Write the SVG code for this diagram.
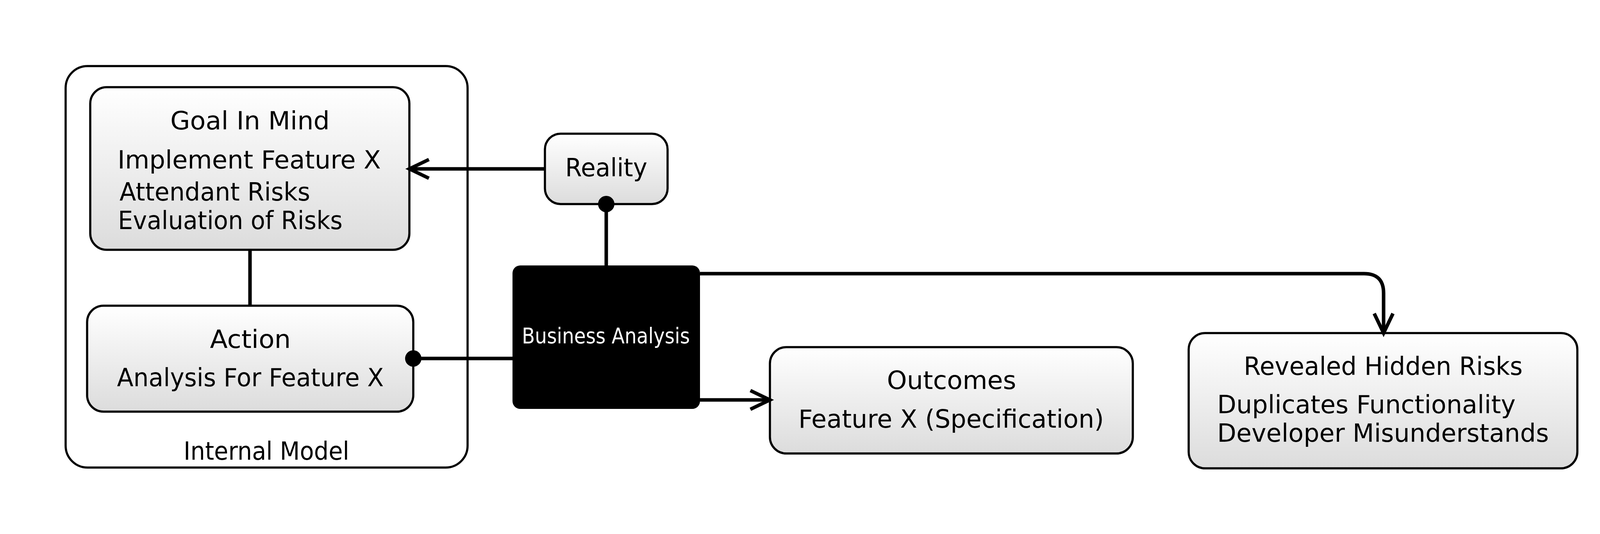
<svg xmlns="http://www.w3.org/2000/svg" width="4207" height="1366" viewBox="0 0 4207 1366">
<defs>
<linearGradient id="g" x1="0" y1="0" x2="0" y2="1">
<stop offset="0" stop-color="#ffffff"/>
<stop offset="1" stop-color="#dcdcdc"/>
</linearGradient>
<marker id="arrow" markerUnits="userSpaceOnUse" markerWidth="120" markerHeight="120" refX="0" refY="0" orient="auto" overflow="visible">
<path d="M-50,-24 L0,0 L-50,24" fill="none" stroke="#000" stroke-width="9"/>
</marker>
<marker id="dot" markerUnits="userSpaceOnUse" markerWidth="60" markerHeight="60" refX="0" refY="0" orient="auto" overflow="visible">
<circle cx="0" cy="0" r="21" fill="#000"/>
</marker>
</defs>
<style>
.box{fill:url(#g);stroke:#000;stroke-width:5.5}
.t{font-family:"DejaVu Sans","Liberation Sans",sans-serif;font-size:64px;fill:#000}
.c{text-anchor:middle}
.conn{fill:none;stroke:#000;stroke-width:9}
</style>
<rect width="4207" height="1366" fill="#fff"/>
<g id="internal-model">
<rect x="168" y="169" width="1029" height="1027" rx="56" fill="#fff" stroke="#000" stroke-width="5.5"/>
<text class="t c" x="682" y="1176" textLength="424" lengthAdjust="spacingAndGlyphs">Internal Model</text>
</g>
<g id="goal">
<rect class="box" x="231" y="223" width="817" height="416" rx="42"/>
<text class="t c" x="640" y="331" textLength="408" lengthAdjust="spacingAndGlyphs">Goal In Mind</text>
<text class="t" x="301" y="431" textLength="674" lengthAdjust="spacingAndGlyphs">Implement Feature X</text>
<text class="t" x="306" y="513" textLength="488" lengthAdjust="spacingAndGlyphs">Attendant Risks</text>
<text class="t" x="302" y="586" textLength="575" lengthAdjust="spacingAndGlyphs">Evaluation of Risks</text>
</g>
<g id="action">
<rect class="box" x="223" y="782" width="835" height="271" rx="42"/>
<text class="t c" x="641" y="890" textLength="207" lengthAdjust="spacingAndGlyphs">Action</text>
<text class="t c" x="641" y="988" textLength="683" lengthAdjust="spacingAndGlyphs">Analysis For Feature X</text>
</g>
<g id="reality">
<rect class="box" x="1395" y="342" width="314" height="180" rx="40"/>
<text class="t c" x="1552" y="451" textLength="210" lengthAdjust="spacingAndGlyphs">Reality</text>
</g>
<g id="business-analysis">
<rect x="1312" y="679" width="480" height="367" rx="20" fill="#000"/>
<text class="t c" x="1551" y="878" style="font-size:56px;fill:#fff" textLength="430" lengthAdjust="spacingAndGlyphs">Business Analysis</text>
</g>
<g id="outcomes">
<rect class="box" x="1971" y="888" width="929" height="272" rx="42"/>
<text class="t c" x="2436" y="995" textLength="331" lengthAdjust="spacingAndGlyphs">Outcomes</text>
<text class="t c" x="2435" y="1094" textLength="782" lengthAdjust="spacingAndGlyphs">Feature X (Specification)</text>
</g>
<g id="revealed">
<rect class="box" x="3043" y="852" width="995" height="346" rx="42"/>
<text class="t c" x="3541" y="959" textLength="714" lengthAdjust="spacingAndGlyphs">Revealed Hidden Risks</text>
<text class="t" x="3116" y="1057" textLength="764" lengthAdjust="spacingAndGlyphs">Duplicates Functionality</text>
<text class="t" x="3116" y="1130" textLength="849" lengthAdjust="spacingAndGlyphs">Developer Misunderstands</text>
</g>
<g id="connectors">
<path class="conn" d="M1395,432 H1048" marker-end="url(#arrow)"/>
<path class="conn" d="M640,639 V782"/>
<path class="conn" d="M1552,679 V522" marker-end="url(#dot)"/>
<path class="conn" d="M1312,917 H1058" marker-end="url(#dot)"/>
<path class="conn" d="M1792,1023 H1971" marker-end="url(#arrow)"/>
<path class="conn" d="M1792,700 H3492 Q3542,700 3542,750 V852" marker-end="url(#arrow)"/>
</g>
</svg>
